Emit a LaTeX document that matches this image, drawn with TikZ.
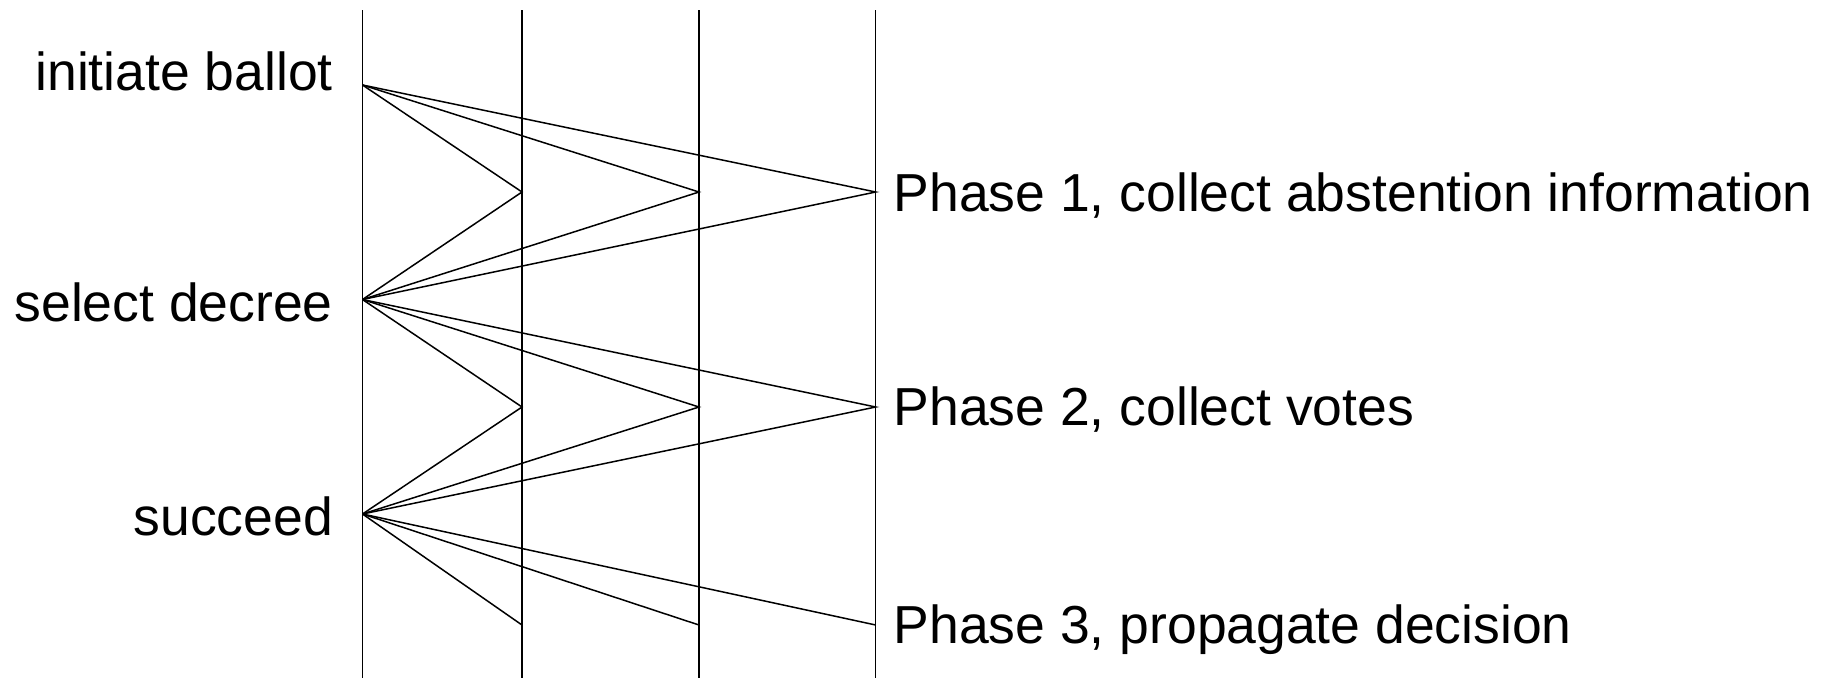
\documentclass[tikz,border=0pt]{standalone}
\usepackage{fontspec}
\setmainfont{Liberation Sans}
\begin{document}
\begin{tikzpicture}[x=1pt,y=-1pt,
  lane/.style={line width=1.5pt},
  msg/.style={line width=1.5pt},
  lbl/.style={inner sep=0pt, font=\fontsize{53.5}{64}\selectfont}]
\useasboundingbox (0,0) rectangle (1833,678);
% lanes
\foreach \n/\x in {a/362.5,b/522,c/699,d/875.7}{
  \coordinate (\n top) at (\x,10);
  \coordinate (\n bot) at (\x,678);
  \draw[lane] (\n top) -- (\n bot);
}
% proposer points
\coordinate (s0) at (362.5,85);
\coordinate (s1) at (362.5,299.5);
\coordinate (s2) at (362.5,514);
% phase points
\foreach \k/\y in {1/192,2/407,3/625}{
  \coordinate (b\k) at (522,\y);
  \coordinate (c\k) at (699,\y);
  \coordinate (d\k) at (875.7,\y);
}
% labels
\node[lbl, anchor=base east] (ib) at (333,90.7) {initiate ballot};
\node[lbl, anchor=base east] (sd) at (333,321.7) {select decree};
\node[lbl, anchor=base east] (sc) at (333,535) {succeed};
\node[lbl, anchor=base west] (p1) at (893.5,211.7) {Phase 1, collect abstention information};
\node[lbl, anchor=base west] (p2) at (893.5,425) {Phase 2, collect votes};
\node[lbl, anchor=base west] (p3) at (893.5,643.5) {Phase 3, propagate decision};
% messages
\foreach \t in {b1,c1,d1}{\draw[msg] (s0) -- (\t) -- (s1);}
\foreach \t in {b2,c2,d2}{\draw[msg] (s1) -- (\t) -- (s2);}
\foreach \t in {b3,c3,d3}{\draw[msg] (s2) -- (\t);}
\end{tikzpicture}
\end{document}
